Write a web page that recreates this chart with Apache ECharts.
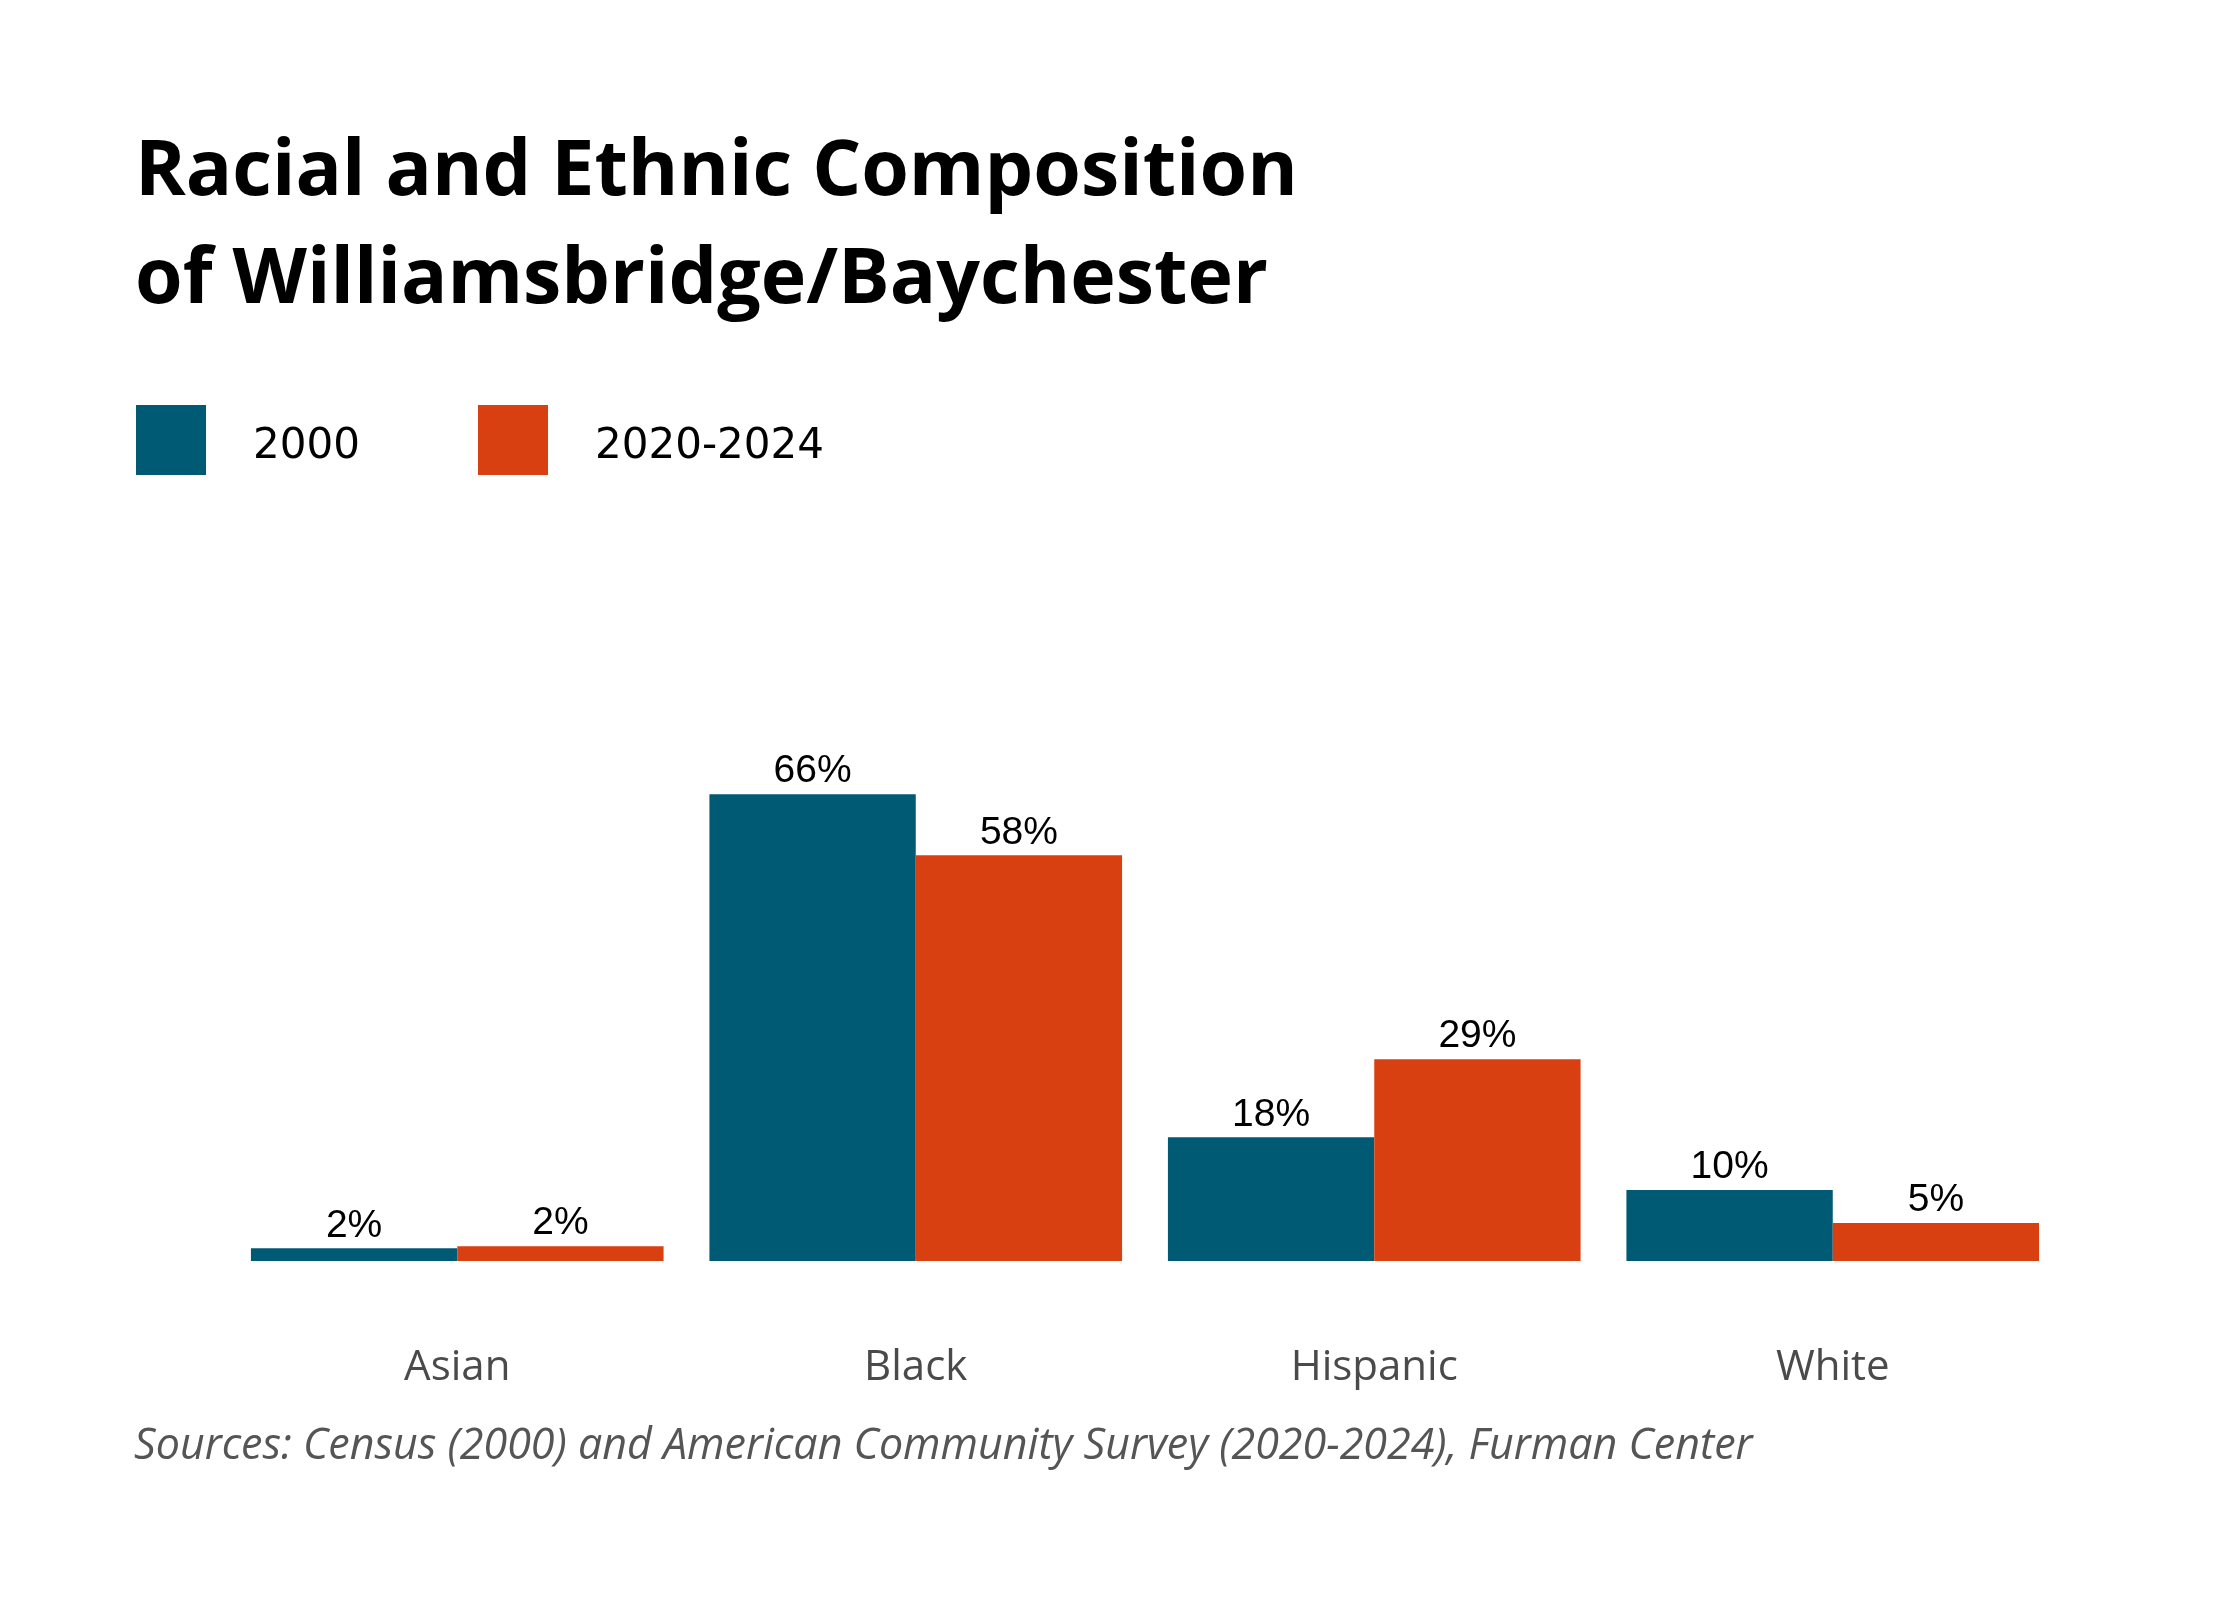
<!DOCTYPE html>
<html>
<head>
<meta charset="utf-8">
<title>Racial and Ethnic Composition of Williamsbridge/Baychester</title>
<script src="https://cdn.jsdelivr.net/npm/echarts@6/dist/echarts.min.js"></script>
<style>
  html, body { margin: 0; padding: 0; background: #fff; }
  #main { width: 2240px; height: 1600px; }
</style>
</head>
<body>
<div id="main"></div>
<script>
// values (share of population, %)
var categories = ['Asian', 'Black', 'Hispanic', 'White'];
var seriesNames = ['2000', '2020-2024'];
var share2000 = [1.8, 66.4, 17.6, 10.1];
var share2024 = [2.1, 57.7, 28.7, 5.4];

var blue = '#005a74';
var orange = '#d84012';

var myChart = echarts.init(document.getElementById('main'));

function pct(p) {
    return Math.round(p.value) + '%';
}

var valueLabel = {
    show: true,
    position: 'top',
    distance: 3,
    formatter: pct,
    color: '#000',
    fontFamily: 'Liberation Sans',
    fontSize: 39
};

// legend text sits a bit lower than the middle of the square
var legendText = {
    color: '#000',
    fontFamily: 'DejaVu Sans',
    fontSize: 42,
    padding: [0, 0, 0, 42],
    rich: {
        t: {
            color: '#000',
            fontFamily: 'DejaVu Sans',
            fontSize: 42,
            padding: [14, 0, 0, 0]
        }
    }
};

var option = {
    backgroundColor: '#fff',
    animation: false,
    title: {
        text: 'Racial and Ethnic Composition\nof Williamsbridge/Baychester',
        left: 130,
        top: 114,
        textStyle: {
            color: '#000',
            fontFamily: 'Open Sans',
            fontWeight: 'bold',
            fontSize: 77,
            lineHeight: 108
        }
    },
    legend: [
        {
            data: [seriesNames[0]],
            left: 131,
            top: 400,
            itemWidth: 70,
            itemHeight: 70,
            icon: 'rect',
            formatter: '{t|{name}}',
            textStyle: legendText
        },
        {
            data: [seriesNames[1]],
            left: 473,
            top: 400,
            itemWidth: 70,
            itemHeight: 70,
            icon: 'rect',
            formatter: '{t|{name}}',
            textStyle: legendText
        }
    ],
    grid: {
        left: 228,
        right: 178,
        top: 558,
        bottom: 339,
        containLabel: false
    },
    xAxis: {
        type: 'category',
        data: categories,
        axisLine: { show: false },
        axisTick: { show: false },
        axisLabel: {
            margin: 86,
            color: '#4a4a4a',
            fontFamily: 'Open Sans',
            fontSize: 42
        }
    },
    yAxis: {
        type: 'value',
        min: 0,
        max: 100,
        show: false,
        splitLine: { show: false }
    },
    series: [
        {
            name: seriesNames[0],
            type: 'bar',
            data: share2000,
            barGap: '0%',
            barCategoryGap: '10%',
            itemStyle: { color: blue },
            label: valueLabel
        },
        {
            name: seriesNames[1],
            type: 'bar',
            data: share2024,
            barGap: '0%',
            barCategoryGap: '10%',
            itemStyle: { color: orange },
            label: valueLabel
        }
    ],
    graphic: [
        {
            type: 'text',
            left: 134,
            top: 1425,
            style: {
                text: 'Sources: Census (2000) and American Community Survey (2020-2024), Furman Center',
                fill: '#555',
                fontFamily: 'Open Sans',
                fontStyle: 'italic',
                fontSize: 43
            }
        }
    ]
};

myChart.setOption(option);
</script>
</body>
</html>
